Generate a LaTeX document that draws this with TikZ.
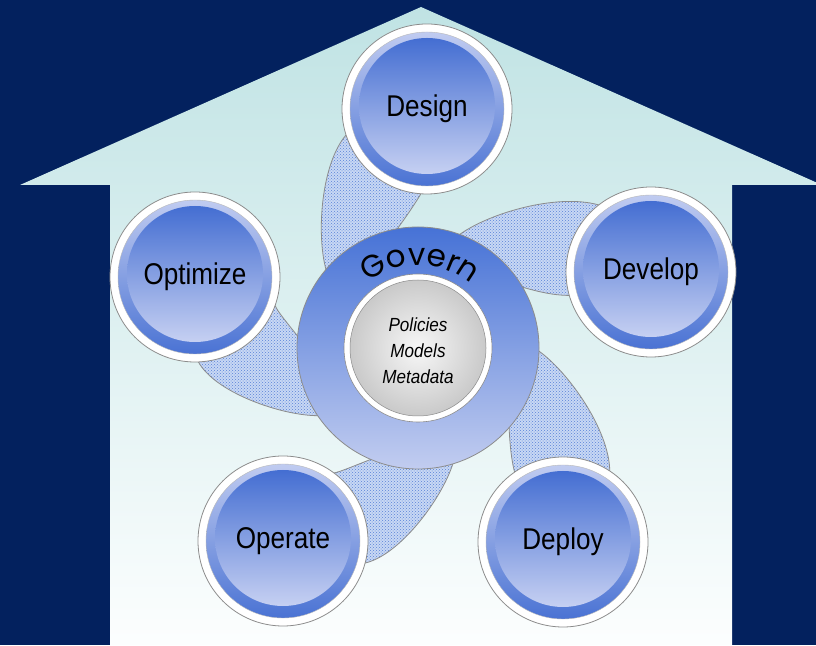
\documentclass[tikz,border=0pt]{standalone}
\usepackage{fontspec}
\usetikzlibrary{patterns,calc}
\newfontfamily\labfont[FakeStretch=0.87]{Liberation Sans}
\newfontfamily\metafont[FakeStretch=0.9]{Liberation Sans}
\newfontfamily\govfont{Poppins}
\definecolor{navy}{RGB}{3,33,94}
\definecolor{housetop}{RGB}{192,227,228}
\definecolor{housebot}{RGB}{252,254,254}
\definecolor{graybd}{RGB}{140,140,140}
\definecolor{ringtop}{RGB}{70,114,214}
\definecolor{ringbot}{RGB}{194,205,240}
\definecolor{satlight}{RGB}{198,208,242}
\definecolor{satdark}{RGB}{68,110,210}
\definecolor{armbase}{RGB}{200,216,244}
\definecolor{armdot}{RGB}{90,130,215}
\tikzset{
  sat/.style={circle, minimum size=170pt, inner sep=0pt, draw=graybd, line width=0.8pt, fill=white,
    font=\labfont\fontsize{30}{30}\selectfont,
    path picture={
      \shadedraw[top color=satlight, bottom color=satdark, draw=gray!55, line width=.4pt]
        (path picture bounding box.center) circle[radius=77pt];
      \shade[top color=satdark, bottom color=satlight]
        ([yshift=3pt]path picture bounding box.center) circle[radius=68pt];
    }},
  armstyle/.style={preaction={fill=armbase}, pattern=crosshatch dots, pattern color=armdot,
    draw=graybd, line width=0.8pt},
  govletter/.style={anchor=base, inner sep=0pt, font=\govfont\fontsize{31}{31}\selectfont},
}
\begin{document}
\begin{tikzpicture}[x=1pt,y=1pt]
\useasboundingbox (0,0) rectangle (816,645);
\fill[navy] (0,0) rectangle (816,645);
% house
\shade[top color=housetop, bottom color=housebot]
  (110,0) -- (110,460) -- (20,460) -- (421,638) -- (822,460) -- (732,460) -- (732,0) -- cycle;
% centre
\coordinate (C) at (418,297);
% arms
\foreach \a/\d in {87.8/239.2, 18.1/245, -53.2/242.2, 235/235.5, 162.3/234}{
  \begin{scope}[shift={(418,297)}, rotate=\a]
    \path[armstyle] ({\d-29},80) .. controls (180,104) and (110,106) .. (75,95)
      -- (118.4,25.2) .. controls (132,16) and (145,8) .. ({\d-85},3) -- cycle;
  \end{scope}
}
% govern ring
\node[circle, minimum size=242pt, inner sep=0pt, draw=graybd, line width=0.8pt,
  top color=ringtop, bottom color=ringbot] (govern) at (C) {};
\node[circle, minimum size=148pt, inner sep=0pt, draw=graybd, line width=0.6pt, fill=white] (rim) at (C) {};
\node[circle, minimum size=136pt, inner sep=0pt, draw=graybd, line width=0.5pt,
  inner color=gray!6, outer color=gray!42] (core) at (C) {};
\node[align=center, font=\metafont\itshape\fontsize{19}{26}\selectfont] (meta) at (418,294)
  {Policies\\Models\\Metadata};
% curved "Govern"
\foreach \ch/\ang [count=\i] in {G/119, o/104, v/90.5, e/78, r/67.5, n/57}{
  \node[govletter, rotate=\ang-90] (gov\i) at ($(C)+(\ang:83)$) {\ch};
}
% satellites
\node[sat] (design) at (427,536) {Design};
\node[sat] (develop) at (651,373) {Develop};
\node[sat] (deploy) at (563,103) {Deploy};
\node[sat] (operate) at (283,104) {Operate};
\node[sat] (optimize) at (195,368) {Optimize};
\end{tikzpicture}
\end{document}
